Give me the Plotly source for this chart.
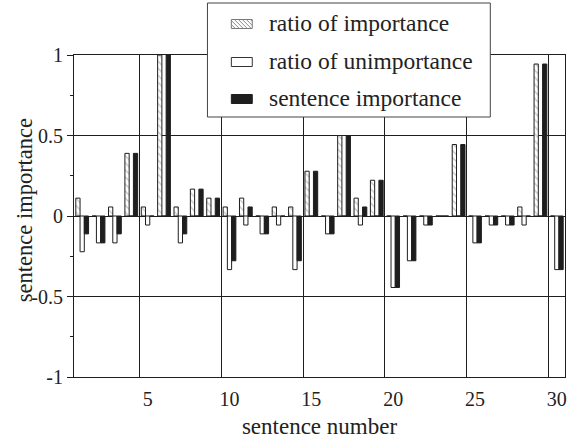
import plotly.graph_objects as go

# ---- data -------------------------------------------------------------
sentences = list(range(1, 31))

ratio_importance = [0.111, 0.0, 0.056, 0.389, 0.056, 1.0, 0.056, 0.167, 0.111, 0.056,
                    0.111, 0.0, 0.056, 0.056, 0.278, 0.0, 0.5, 0.111, 0.222, 0.0,
                    0.0, 0.0, 0.0, 0.444, 0.0, 0.0, 0.0, 0.056, 0.944, 0.0]

ratio_unimportance = [-0.222, -0.167, -0.167, 0.0, -0.056, 0.0, -0.167, 0.0, 0.0, -0.333,
                      -0.056, -0.111, -0.056, -0.333, 0.0, -0.111, 0.0, -0.056, 0.0, -0.444,
                      -0.278, -0.056, 0.0, 0.0, -0.167, -0.056, -0.056, -0.056, 0.0, -0.333]

sentence_importance = [-0.111, -0.167, -0.111, 0.389, 0.0, 1.0, -0.111, 0.167, 0.111, -0.278,
                       0.056, -0.111, 0.0, -0.278, 0.278, -0.111, 0.5, 0.056, 0.222, -0.444,
                       -0.278, -0.056, 0.0, 0.444, -0.167, -0.056, -0.056, 0.0, 0.944, -0.333]

series_names = ["ratio of importance", "ratio of unimportance", "sentence importance"]

x_ticks = [5, 10, 15, 20, 25, 30]
y_ticks = [-1, -0.5, 0, 0.5, 1]
y_tick_text = ["-1", "-0.5", "0", "0.5", "1"]

# ---- geometry helpers ------------------------------------------------
W, H = 570, 439
ML, MR, MT, MB = 74, 3, 55, 62
PW, PH = W - ML - MR, H - MT - MB
FONT = "Liberation Serif"
INK = "#1e1e1e"
TXT = "#222"


def px(x):
    return (x - ML) / PW


def py(y):
    return (H - MB - y) / PH


# ---- bars ------------------------------------------------------------
fig = go.Figure()
fig.add_trace(go.Bar(
    x=sentences, y=ratio_importance, name=series_names[0],
    marker=dict(color="white", line=dict(color=INK, width=1),
                pattern=dict(shape="\\", fgcolor="#8a8a8a", bgcolor="white",
                             size=5, solidity=0.25)),
))
fig.add_trace(go.Bar(
    x=sentences, y=ratio_unimportance, name=series_names[1],
    marker=dict(color="white", line=dict(color=INK, width=1)),
))
fig.add_trace(go.Bar(
    x=sentences, y=sentence_importance, name=series_names[2],
    marker=dict(color=INK, line=dict(color=INK, width=1)),
))

# ---- legend box drawn in pixel space ------------------------------------
shapes = []
box = dict(x0=208, x1=492, y0=3, y1=117)
shapes.append(dict(type="rect", xref="paper", yref="paper", layer="above",
                   x0=px(box["x0"]), x1=px(box["x1"]),
                   y0=py(box["y1"]), y1=py(box["y0"]),
                   fillcolor="white", line=dict(color="#444", width=1)))

row_y = [24, 62, 99]
sx0, sx1, sh = 232, 253, 9
annotations = []
for i, (name, cy) in enumerate(zip(series_names, row_y)):
    top, bot = cy - sh / 2, cy + sh / 2
    if i == 0:
        fill, edge = "white", "#777"
    elif i == 1:
        fill, edge = "white", "#333"
    else:
        fill, edge = INK, INK
    shapes.append(dict(type="rect", xref="paper", yref="paper", layer="above",
                       x0=px(sx0), x1=px(sx1), y0=py(bot), y1=py(top),
                       fillcolor=fill, line=dict(color=edge, width=1)))
    if i == 0:
        # backslash hatching clipped to the symbol
        step = 4
        start = sx0 - sh
        while start < sx1:
            ax, ay = start, top
            bx, by = start + sh, bot
            if ax < sx0:
                ay = top + (sx0 - ax)
                ax = sx0
            if bx > sx1:
                by = bot - (bx - sx1)
                bx = sx1
            if bx > ax:
                shapes.append(dict(type="line", xref="paper", yref="paper", layer="above",
                                   x0=px(ax), y0=py(ay), x1=px(bx), y1=py(by),
                                   line=dict(color="#8a8a8a", width=1)))
            start += step
    annotations.append(dict(text=name, xref="paper", yref="paper",
                            x=px(268), y=py(cy - 1), xanchor="left", yanchor="middle",
                            showarrow=False, font=dict(family=FONT, size=23.5, color=TXT)))

# y-axis title
annotations.append(dict(text="sentence importance", xref="paper", yref="paper",
                        x=px(24), y=py(210), textangle=-90, xanchor="center",
                        yanchor="middle", showarrow=False,
                        font=dict(family=FONT, size=22.5, color=TXT)))

fig.update_layout(
    width=W, height=H,
    margin=dict(l=ML, r=MR, t=MT, b=MB),
    paper_bgcolor="white", plot_bgcolor="white",
    barmode="group", bargap=0.22, bargroupgap=0,
    showlegend=False,
    shapes=shapes, annotations=annotations,
    font=dict(family=FONT, color=TXT),
)

fig.update_xaxes(
    type="category", tickmode="array", tickvals=x_ticks,
    ticktext=[str(t) for t in x_ticks], tickson="boundaries", tickangle=0,
    showgrid=True, gridcolor=INK, gridwidth=1,
    showline=True, linecolor=INK, linewidth=1, mirror=True,
    ticks="", ticklabelstandoff=4, tickfont=dict(family=FONT, size=20, color=TXT),
    title=dict(text="sentence number", font=dict(family=FONT, size=23, color=TXT),
               standoff=8),
    range=[-0.5, 29.5],
)

fig.update_yaxes(
    range=[-1, 1], tickmode="array", tickvals=y_ticks, ticktext=y_tick_text,
    showgrid=True, gridcolor=INK, gridwidth=1,
    zeroline=True, zerolinecolor=INK, zerolinewidth=1,
    showline=True, linecolor=INK, linewidth=1, mirror=True,
    ticks="outside", ticklen=6, tickcolor=INK,
    minor=dict(dtick=0.25, tick0=0, ticks="outside", ticklen=3, tickcolor=INK, showgrid=False),
    tickfont=dict(family=FONT, size=20, color=TXT),
)

fig.write_html("out.html")
